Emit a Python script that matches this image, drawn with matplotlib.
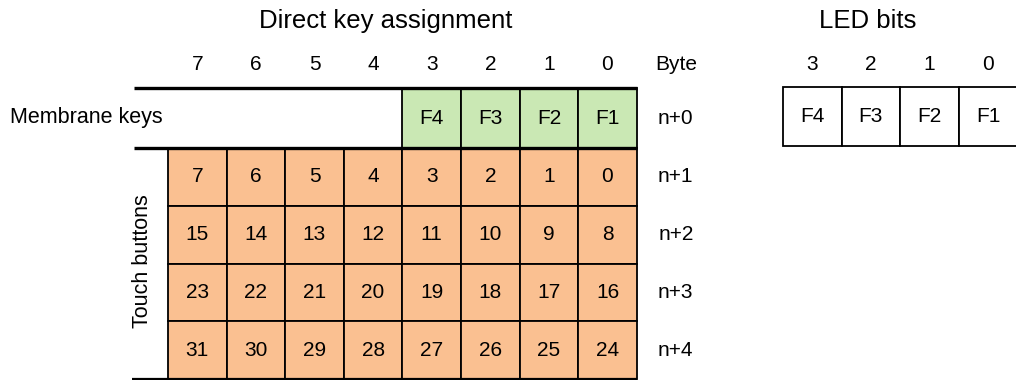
import matplotlib.pyplot as plt
from matplotlib.patches import Rectangle

plt.rcParams['font.family'] = ['Liberation Sans', 'DejaVu Sans']

# data
bit_labels = ["7", "6", "5", "4", "3", "2", "1", "0"]
byte_labels = ["n+0", "n+1", "n+2", "n+3", "n+4"]
membrane_keys = ["F4", "F3", "F2", "F1"]
touch_rows = [
    [7, 6, 5, 4, 3, 2, 1, 0],
    [15, 14, 13, 12, 11, 10, 9, 8],
    [23, 22, 21, 20, 19, 18, 17, 16],
    [31, 30, 29, 28, 27, 26, 25, 24],
]
led_bits = ["3", "2", "1", "0"]
led_keys = ["F4", "F3", "F2", "F1"]

orange = "#FAC091"
green = "#CAE8B4"

# layout (pixels)
x0, cw = 168, 58.6
y_top, mem_h, rh = 88, 60, 57.8
line_left = 134
led_x0, led_y0, led_h = 783, 87, 59

fig = plt.figure(figsize=(10.16, 3.8), dpi=100)
ax = fig.add_axes([0, 0, 1, 1])
ax.set_xlim(0, 1016)
ax.set_ylim(380, 0)
ax.axis("off")

fs = 15
fs_big = 18.5

# titles
ax.text(x0 + 4 * cw - 17, 21, "Direct key assignment", ha="center", va="center", fontsize=fs_big)
ax.text(led_x0 + 2 * cw - 33, 21, "LED bits", ha="center", va="center", fontsize=fs_big)

# column headers
for i, b in enumerate(bit_labels):
    ax.text(x0 + (i + 0.5) * cw, 65, b, ha="center", va="center", fontsize=fs)
ax.text(x0 + 8 * cw + 39, 65, "Byte", ha="center", va="center", fontsize=fs)

# membrane row
grid_right = x0 + 8 * cw
ax.plot([line_left, grid_right], [y_top, y_top], color="black", lw=2.4, solid_capstyle="butt")
for i, k in enumerate(membrane_keys):
    cx = x0 + (4 + i) * cw
    ax.add_patch(Rectangle((cx, y_top), cw, mem_h, facecolor=green, edgecolor="black", lw=1.3))
    ax.text(cx + cw / 2, y_top + mem_h / 2, k, ha="center", va="center", fontsize=fs)
ax.text(10, y_top + mem_h / 2, "Membrane keys", ha="left", va="center", fontsize=15.5)

# touch rows
y1 = y_top + mem_h
for r, row in enumerate(touch_rows):
    for i, v in enumerate(row):
        cx = x0 + i * cw
        cy = y1 + r * rh
        ax.add_patch(Rectangle((cx, cy), cw, rh, facecolor=orange, edgecolor="black", lw=1.3))
        ax.text(cx + cw / 2, cy + rh / 2, str(v), ha="center", va="center", fontsize=fs)
ax.plot([line_left, grid_right], [y1, y1], color="black", lw=2.4, solid_capstyle="butt")
y_bot = y1 + 4 * rh
ax.plot([line_left - 2, grid_right], [y_bot, y_bot], color="black", lw=1.6, solid_capstyle="butt")
ax.text(143, y1 + 2 * rh - 2, "Touch buttons", rotation=90, ha="center", va="center", fontsize=15.5)

# byte labels
for r, lab in enumerate(byte_labels):
    cy = y_top + mem_h / 2 if r == 0 else y1 + (r - 0.5) * rh
    ax.text(grid_right + 39, cy, lab, ha="center", va="center", fontsize=fs)

# LED bits
for i, (b, k) in enumerate(zip(led_bits, led_keys)):
    cx = led_x0 + i * cw
    ax.text(cx + cw / 2, 65, b, ha="center", va="center", fontsize=fs)
    ax.add_patch(Rectangle((cx, led_y0), cw, led_h, facecolor="white", edgecolor="black", lw=1.3))
    ax.text(cx + cw / 2, led_y0 + led_h / 2, k, ha="center", va="center", fontsize=fs)

fig.savefig("out.png", dpi=100)
